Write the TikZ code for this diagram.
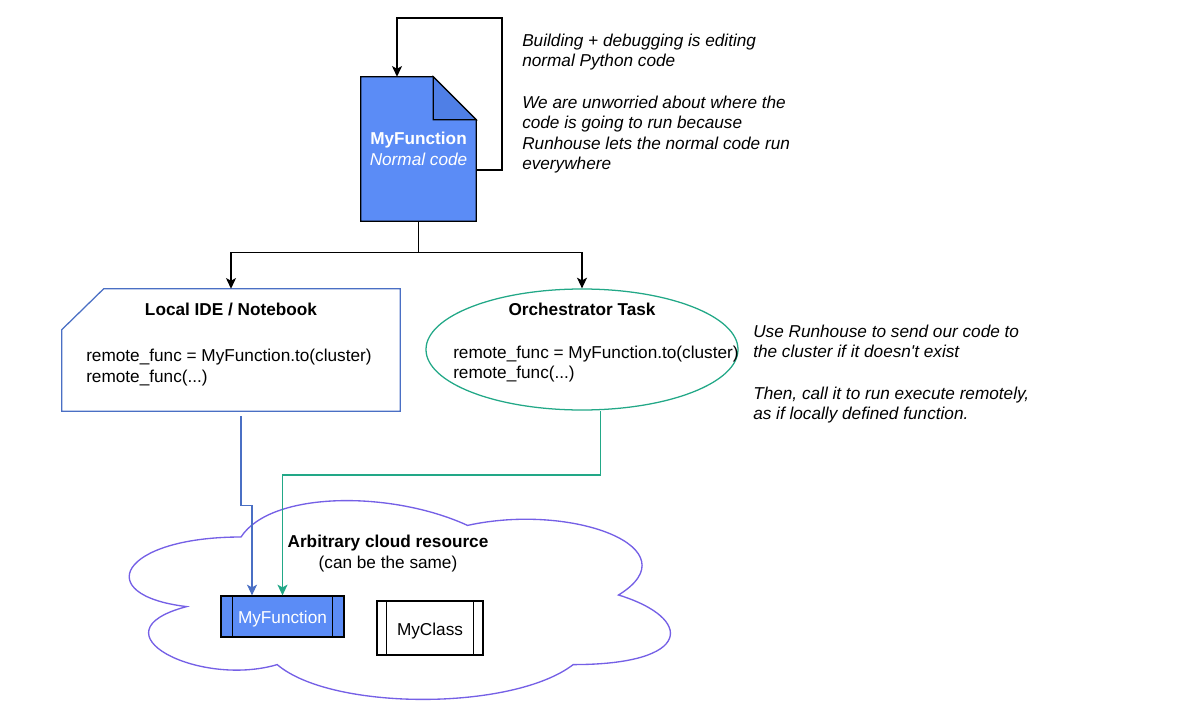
\documentclass[tikz,border=0pt]{standalone}
\usepackage{fontspec}
\setmainfont{Liberation Sans}
\usetikzlibrary{shapes.geometric,arrows.meta,calc}
\definecolor{docblue}{HTML}{5B8CF6}
\definecolor{folddark}{HTML}{4F7FE6}
\definecolor{localblue}{HTML}{4A6FC4}
\definecolor{tealc}{HTML}{22A887}
\definecolor{cloudpurple}{HTML}{7560E6}
\tikzset{
  fnt/.style={font=\fontsize{12.9}{15.45}\selectfont},
  txt/.style={fnt, inner sep=0pt},
  arr/.style={-{Stealth[length=8pt,width=7.5pt,inset=2pt]}},
  thin line/.style={line width=0.95pt},
}
\begin{document}
\begin{tikzpicture}[x=0.75pt,y=-0.75pt]
\useasboundingbox (0,0) rectangle (1200,717);

% cloud
\draw[cloudpurple, line width=1pt, fill=white]
  (241,537) .. controls (120.2,537) and (90,595) .. (186.6,606.6)
  .. controls (90,632.1) and (198.7,687.8) .. (277.2,664.6)
  .. controls (331.6,711) and (512.8,711) .. (573.2,664.6)
  .. controls (694,664.6) and (694,618.2) .. (618.5,595)
  .. controls (694,548.6) and (573.2,502.2) .. (467.5,525.4)
  .. controls (392,490.6) and (271.2,490.6) .. (241,537) -- cycle;
\node[txt, anchor=base, font=\fontsize{12.9}{15.45}\selectfont\bfseries] (cloudT) at (388,547) {Arbitrary cloud resource};
\node[txt, anchor=base] (cloudS) at (388,568) {(can be the same)};

% document
\node[minimum width=86.25pt, minimum height=108pt, inner sep=0pt] (doc) at (418.5,149) {};
\draw[thin line, fill=docblue] (doc.north west) -- ($(doc.north east)+(-43,0)$) -- ($(doc.north east)+(0,43)$) -- (doc.south east) -- (doc.south west) -- cycle;
\draw[thin line, fill=folddark] ($(doc.north east)+(-43,0)$) -- ($(doc.north east)+(-43,43)$) -- ($(doc.north east)+(0,43)$) -- cycle;
\node[txt, anchor=base, text=white, font=\fontsize{12.9}{15.45}\selectfont\bfseries] (docT) at (418.5,144) {MyFunction};
\node[txt, anchor=base, text=white, font=\fontsize{12.9}{15.45}\selectfont\itshape] (docS) at (418.5,165) {Normal code};

% loop
\coordinate (loopA) at (502,18);
\draw[thin line, arr] ($(doc.east)+(0,21)$) -| (loopA) -| ($(doc.north)+(-21.5,0)$);

% annotation top
\node[txt, anchor=north west, align=left, font=\fontsize{12.9}{15.45}\selectfont\itshape] (noteA) at (522,33.5)
  {Building + debugging is editing\\normal Python code\\[15.45pt]We are unworried about where the\\code is going to run because\\Runhouse lets the normal code run\\everywhere};

% local IDE
\node[minimum width=253.5pt, minimum height=91.5pt, inner sep=0pt] (local) at (231,350) {};
\draw[localblue, thin line, fill=white] (local.south west) -- ($(local.north west)+(0,41)$) -- ($(local.north west)+(42,0)$) -- (local.north east) -- (local.south east) -- cycle;
\node[txt, anchor=base, font=\fontsize{12.9}{15.45}\selectfont\bfseries] (localT) at (231,315) {Local IDE / Notebook};
\node[txt, anchor=base west] (localC1) at (86,361) {remote\_func = MyFunction.to(cluster)};
\node[txt, anchor=base west] (localC2) at (86,382) {remote\_func(...)};

% orchestrator
\node[ellipse, draw=tealc, thin line, fill=white, minimum width=234pt, minimum height=90.75pt, inner sep=0pt] (orch) at (582,349.5) {};
\node[txt, anchor=base, font=\fontsize{12.9}{15.45}\selectfont\bfseries] (orchT) at (582,315) {Orchestrator Task};
\node[txt, anchor=base west] (orchC1) at (453,358) {remote\_func = MyFunction.to(cluster)};
\node[txt, anchor=base west] (orchC2) at (453,378) {remote\_func(...)};

% annotation right
\node[txt, anchor=north west, align=left, font=\fontsize{12.9}{15.45}\selectfont\itshape] (noteB) at (753,324.5)
  {Use Runhouse to send our code to\\the cluster if it doesn\textquotesingle t exist\\[15.45pt]Then, call it to run execute remotely,\\as if locally defined function.};

% fork
\draw[thin line] (doc.south) -- ++(0,31) coordinate (fork);
\draw[thin line, arr] (fork) -| (local.north);
\draw[thin line, arr] (fork) -| (orch.north);

% boxes in cloud
\node[thin line, draw, fill=docblue, minimum width=92.25pt, minimum height=30.75pt, inner sep=0pt] (mf) at (282.5,616.5) {};
\node[txt, anchor=base, text=white] (mfT) at (282.5,623) {MyFunction};
\draw[thin line] ($(mf.north west)+(12,0)$) -- ($(mf.south west)+(12,0)$);
\draw[thin line] ($(mf.north east)+(-12,0)$) -- ($(mf.south east)+(-12,0)$);
\node[thin line, draw, fill=white, minimum width=79.5pt, minimum height=40.5pt, inner sep=0pt] (mc) at (430,628) {};
\node[txt, anchor=base] (mcT) at (430,635) {MyClass};
\draw[thin line] ($(mc.north west)+(10,0)$) -- ($(mc.south west)+(10,0)$);
\draw[thin line] ($(mc.north east)+(-10,0)$) -- ($(mc.south east)+(-10,0)$);

% connectors to cloud
\draw[localblue, thin line, arr] ($(local.south)+(10,5)$) |- ($(mf.north)+(-30.5,-90)$) -- ($(mf.north)+(-30.5,0)$);
\draw[tealc, thin line, arr] ($(orch.south)+(18.5,0.5)$) |- ($(mf.north)+(0,-120.5)$) -- (mf.north);
\end{tikzpicture}
\end{document}
